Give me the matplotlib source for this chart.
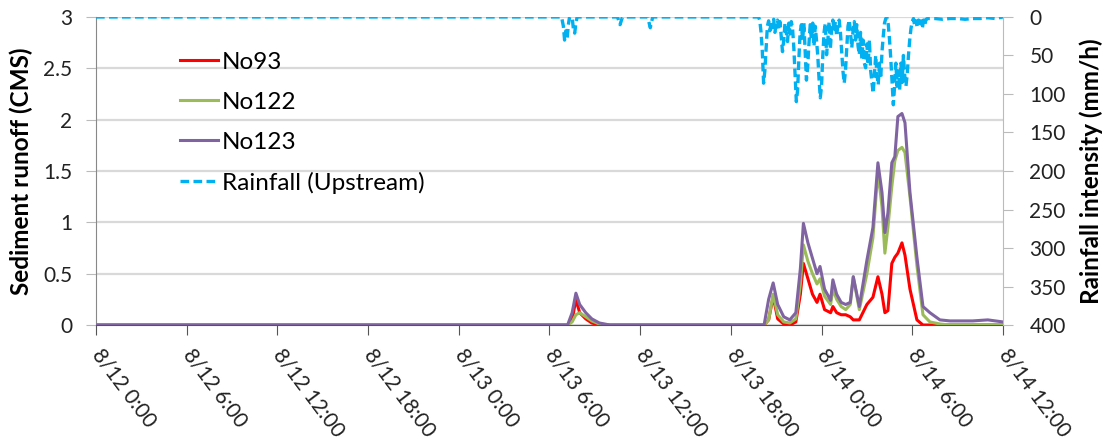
import numpy as np
import matplotlib
matplotlib.use("Agg")
import matplotlib.pyplot as plt
from matplotlib.transforms import ScaledTranslation

plt.rcParams['font.family'] = ['Lato', 'DejaVu Sans']

# Time in hours from 8/12 0:00
sed_hours = [0, 31.2, 31.5, 31.75, 32.0, 32.4, 32.8, 33.3, 34.0,
             44.2, 44.5, 44.8, 45.1, 45.5, 45.9, 46.3, 46.6, 46.8, 47.1, 47.4, 47.7,
             47.9, 48.2, 48.6, 48.75, 49.0, 49.3, 49.6, 49.9, 50.1,
             50.5, 51.0, 51.4, 51.73, 52.0, 52.19, 52.39, 52.65, 52.85, 53.05, 53.32,
             53.52, 53.85, 54.31, 54.71, 55.17, 55.83, 56.5, 58.0, 59.0, 60.0]

no123 = [0, 0, 0.12, 0.31, 0.2, 0.12, 0.06, 0.02, 0,
         0, 0.25, 0.41, 0.2, 0.08, 0.05, 0.12, 0.55, 0.99, 0.8, 0.65, 0.5,
         0.57, 0.35, 0.24, 0.44, 0.3, 0.22, 0.2, 0.22, 0.47,
         0.18, 0.63, 0.95, 1.58, 1.29, 0.9, 1.09, 1.58, 1.64, 2.03, 2.06,
         1.97, 1.29, 0.66, 0.18, 0.12, 0.05, 0.04, 0.04, 0.05, 0.03]

no122 = [0, 0, 0.03, 0.1, 0.12, 0.08, 0.04, 0.01, 0,
         0, 0.05, 0.3, 0.1, 0.03, 0.02, 0.06, 0.4, 0.78, 0.62, 0.5, 0.4,
         0.45, 0.28, 0.2, 0.35, 0.25, 0.18, 0.15, 0.2, 0.47,
         0.15, 0.5, 0.85, 1.5, 1.15, 0.7, 0.95, 1.35, 1.6, 1.7, 1.73,
         1.68, 1.25, 0.58, 0.1, 0.03, 0.01, 0, 0, 0, 0]

no93 = [0, 0, 0.05, 0.25, 0.12, 0.06, 0.02, 0, 0,
        0, 0.05, 0.28, 0.06, 0.01, 0.0, 0.03, 0.3, 0.6, 0.45, 0.3, 0.22,
        0.3, 0.15, 0.12, 0.18, 0.12, 0.1, 0.1, 0.08, 0.05,
        0.05, 0.2, 0.27, 0.47, 0.3, 0.12, 0.14, 0.6, 0.66, 0.7, 0.8,
        0.68, 0.35, 0.05, 0, 0, 0, 0, 0, 0, 0]

# Upstream rainfall intensity (mm/h)
rain_early_hours = [0, 30.8, 30.92, 31.0, 31.08, 31.17, 31.25, 31.33, 31.5, 31.58,
                    31.67, 31.75, 31.83, 34.5, 34.67, 34.83, 36.5, 36.67, 36.83]
rain_early = [0, 0, 12, 30, 18, 28, 10, 0, 0, 15,
              21, 8, 0, 0, 10, 0, 0, 14, 0]

# 5-minute records through the main storm
rain_main_start = 43 + 50 / 60
rain_main = [0, 5, 20, 45, 86, 70, 40, 12, 5, 18, 6, 14, 3, 20, 8, 4, 15, 6,
             25, 45, 30, 8, 20, 32, 8, 22, 6, 15, 40, 75, 110, 95, 55, 20, 10,
             30, 8, 45, 82, 65, 35, 10, 30, 8, 38, 12, 30, 50, 80, 105, 90, 50,
             20, 8, 49, 30, 6, 42, 15, 4, 18, 6, 25, 10, 4, 20, 45, 70, 86,
             70, 40, 12, 4, 20, 40, 18, 6, 30, 10, 38, 49, 20, 55, 30, 60, 66,
             35, 62, 30, 70, 85, 99, 75, 50, 75, 88, 60, 80, 45, 25, 8, 2, 1, 10,
             30, 55, 85, 114, 90, 60, 90, 70, 95, 60, 85, 50, 75, 90, 75, 50, 30,
             15, 6, 2, 12, 5, 14, 4, 12, 5, 15, 4, 10, 3, 2]

# 30-minute records after the storm
rain_tail_hours = [55.5, 56.0, 56.5, 57.0, 57.5, 58.0, 58.5, 59.0, 59.5, 60.0]
rain_tail = [2, 3, 2, 2, 3, 2, 2, 1, 2, 0]

tick_labels = ['8/12 0:00', '8/12 6:00', '8/12 12:00', '8/12 18:00', '8/13 0:00',
               '8/13 6:00', '8/13 12:00', '8/13 18:00', '8/14 0:00', '8/14 6:00',
               '8/14 12:00']

rain_hours = (rain_early_hours
              + [rain_main_start + i / 12 for i in range(len(rain_main))]
              + rain_tail_hours)
rain_vals = rain_early + rain_main + rain_tail

fig = plt.figure(figsize=(11.06, 4.41), dpi=100)
ax = fig.add_axes([0.0868, 0.263, 0.82, 0.6985])
ax2 = ax.twinx()

ax.set_zorder(ax2.get_zorder() - 1)
ax.patch.set_visible(True)
ax2.patch.set_visible(False)

l93, = ax.plot(sed_hours, no93, color='#FF0000', lw=2.2, label='No93', zorder=3)
l122, = ax.plot(sed_hours, no122, color='#9BBB59', lw=2.2, label='No122', zorder=3)
l123, = ax.plot(sed_hours, no123, color='#8064A2', lw=2.2, label='No123', zorder=4)
lr, = ax2.plot(rain_hours, rain_vals, color='#00B0F0', lw=2.4, ls=(0, (2.6, 1.3)),
               label='Rainfall (Upstream)')

ax.set_xlim(0, 60)
ax.set_ylim(0, 3)
ax.set_yticks(np.arange(0, 3.01, 0.5))
ax.set_yticklabels(['0', '0.5', '1', '1.5', '2', '2.5', '3'])
ax.set_xticks(np.arange(0, 61, 6))
ax.set_xticklabels(tick_labels, rotation=-53, ha='left', va='center',
                   rotation_mode='anchor')
shift = ScaledTranslation(6 / 72, 0, fig.dpi_scale_trans)
for lbl in ax.get_xticklabels():
    lbl.set_transform(lbl.get_transform() + shift)
ax.grid(axis='y', color='#D9D9D9', lw=1.6)
ax.set_axisbelow(True)

ax2.set_ylim(400, 0)
ax2.set_yticks(np.arange(0, 401, 50))

for a in (ax, ax2):
    a.spines['top'].set_visible(False)
ax.spines['right'].set_visible(False)
ax.spines['left'].set_color('#888888')
ax.spines['bottom'].set_color('#555555')
ax2.spines['left'].set_visible(False)
ax2.spines['bottom'].set_visible(False)
ax2.spines['right'].set_color('#BBBBBB')

ax.tick_params(axis='y', length=7, color='#BBBBBB', labelsize=15, pad=10,
               labelcolor='#222222')
ax.tick_params(axis='x', length=7, color='#555555', labelsize=15, pad=12,
               labelcolor='#222222')
ax2.tick_params(axis='y', length=7, color='#BBBBBB', labelsize=15, pad=12,
                labelcolor='#222222')

ax.set_ylabel('Sediment runoff (CMS)', fontsize=17.5, fontweight='bold', labelpad=7)
ax2.set_ylabel('Rainfall intensity (mm/h)', fontsize=17.5, fontweight='bold', labelpad=10)

ax.legend(handles=[l93, l122, l123, lr], loc='upper left', bbox_to_anchor=(0.068, 0.958),
          frameon=False, fontsize=17.5, handlelength=1.6, handletextpad=0.15,
          labelspacing=0.78)

fig.savefig('out.png', dpi=100)
